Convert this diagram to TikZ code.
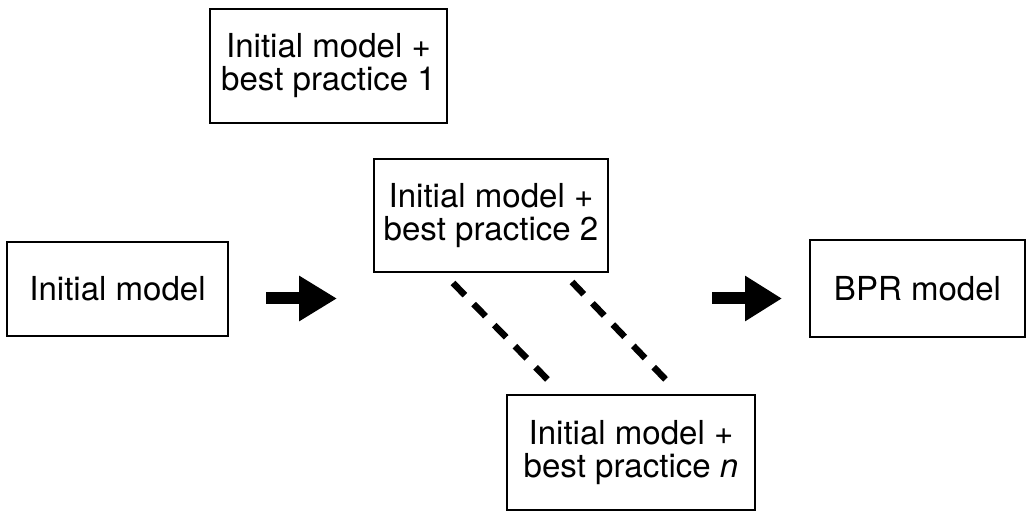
\documentclass[tikz,border=0pt]{standalone}
\usepackage{fontspec}
\setmainfont{TeX Gyre Heros}
\usepackage{tikz}
\usetikzlibrary{arrows.meta,calc}

\tikzset{
	stagebox/.style={draw, line width=1.1pt, align=center, inner sep=0pt,
		font=\fontsize{18.8pt}{18.8pt}\selectfont},
	blockarrow/.style={line width=0.24cm, -{Triangle[length=0.76cm, width=0.86cm]}},
	gapline/.style={line width=0.13cm, dash pattern=on 0.34cm off 0.25cm}
}

\begin{document}
\begin{tikzpicture}[line join=miter]

\useasboundingbox (0,0) rectangle (20.54,10.22);

\node (initial) at (2.35, 4.44) [stagebox, minimum width=4.42cm, minimum height=1.88cm] {Initial model};

\node (bpone) at (6.57, 8.90) [stagebox, minimum width=4.74cm, minimum height=2.28cm] {Initial model +\\best practice 1};

\node (bptwo) at (9.82, 5.91) [stagebox, minimum width=4.68cm, minimum height=2.26cm] {Initial model +\\best practice 2};

\node (bpn) at (12.62, 1.17) [stagebox, minimum width=4.96cm, minimum height=2.30cm] {Initial model +\\best practice \textit{n}};

\node (bpr) at (18.35, 4.45) [stagebox, minimum width=4.30cm, minimum height=1.94cm] {BPR model};

% arrows between the stages
\coordinate (arrowinA) at (5.32, 4.25);
\coordinate (arrowinB) at (6.74, 4.25);
\draw[blockarrow] (arrowinA) -- (arrowinB);

\coordinate (arrowoutA) at (14.24, 4.25);
\coordinate (arrowoutB) at (15.64, 4.25);
\draw[blockarrow, -{Triangle[length=0.74cm, width=0.86cm]}] (arrowoutA) -- (arrowoutB);

% dashed lines down to best practice n
\coordinate (gaponeA) at (9.06, 4.56);
\coordinate (gaponeB) at (10.96, 2.62);
\draw[gapline] (gaponeA) -- (gaponeB);

\coordinate (gaptwoA) at (11.44, 4.58);
\coordinate (gaptwoB) at (13.36, 2.58);
\draw[gapline] (gaptwoA) -- (gaptwoB);

\end{tikzpicture}
\end{document}
